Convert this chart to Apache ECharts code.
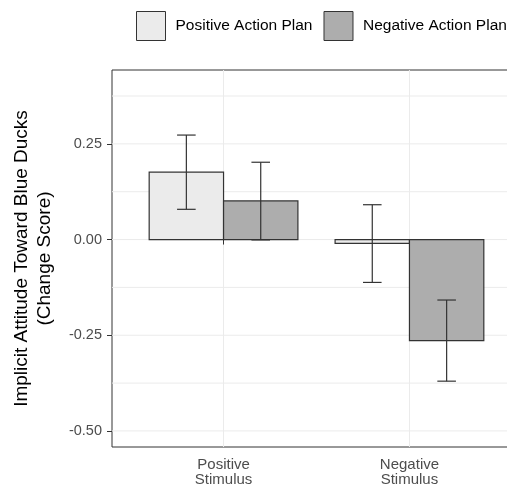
<!DOCTYPE html>
<html>
<head>
<meta charset="utf-8">
<script src="https://cdn.jsdelivr.net/npm/echarts@6/dist/echarts.min.js"></script>
<style>html,body{margin:0;padding:0;background:#fff}#c{width:507px;height:490px}</style>
</head>
<body>
<div id="c"></div>
<script>
// ---- data ----
var categories = ['Positive\nStimulus', 'Negative\nStimulus'];
var plans = ['Positive Action Plan', 'Negative Action Plan'];
var positivePlanMean  = [0.176, -0.010];
var positivePlanLower = [0.079, -0.112];
var positivePlanUpper = [0.273, 0.091];
var negativePlanMean  = [0.101, -0.264];
var negativePlanLower = [-0.001, -0.370];
var negativePlanUpper = [0.202, -0.158];
var yTickValues = [-0.50, -0.25, 0.00, 0.25];
var yGridValues = [-0.50, -0.375, -0.25, -0.125, 0.00, 0.125, 0.25, 0.375];
var xTickValues = [1, 2];

// ---- styles ----
var FONT = 'Liberation Sans, Arial, Helvetica, sans-serif';
var fills = ['#EBEBEB', '#ADADAD'];
var edge = '#333333';
var grid = '#EBEBEB';

function build(mean, lower, upper) {
  return mean.map(function (m, i) { return [i + 1, m, lower[i], upper[i]]; });
}
var seriesData = [
  build(positivePlanMean, positivePlanLower, positivePlanUpper),
  build(negativePlanMean, negativePlanLower, negativePlanUpper)
];

var BAR_W = 0.4, CAP_W = 0.1;
function renderItem(params, api) {
  var s = plans.indexOf(params.seriesName);
  var off = (s === 0 ? -1 : 1) * BAR_W / 2;
  var x = api.value(0) + off;
  var m = api.value(1), lo = api.value(2), hi = api.value(3);
  var p1 = api.coord([x - BAR_W / 2, m]);
  var p2 = api.coord([x + BAR_W / 2, 0]);
  var top = Math.min(p1[1], p2[1]), h = Math.abs(p1[1] - p2[1]);
  var cLo = api.coord([x, lo]), cHi = api.coord([x, hi]);
  var capL = api.coord([x - CAP_W / 2, lo])[0], capR = api.coord([x + CAP_W / 2, lo])[0];
  var ls = { stroke: '#333333', lineWidth: 1.2 };
  return {
    type: 'group',
    children: [
      { type: 'rect', shape: { x: p1[0], y: top, width: p2[0] - p1[0], height: h },
        style: { fill: fills[s], stroke: edge, lineWidth: 1.2 } },
      { type: 'line', shape: { x1: cLo[0], y1: cLo[1], x2: cHi[0], y2: cHi[1] }, style: ls },
      { type: 'line', shape: { x1: capL, y1: cLo[1], x2: capR, y2: cLo[1] }, style: ls },
      { type: 'line', shape: { x1: capL, y1: cHi[1], x2: capR, y2: cHi[1] }, style: ls }
    ]
  };
}

// gridlines: horizontal from yGridValues, vertical from xTickValues
var gridData = yGridValues.map(function (v) { return ['h', v]; })
  .concat(xTickValues.map(function (v) { return ['v', v]; }));
function renderGrid(params, api) {
  var cs = params.coordSys;
  var d = gridData[params.dataIndex];
  if (d[0] === 'h') {
    var y = api.coord([1, d[1]])[1];
    return { type: 'line', shape: { x1: cs.x, y1: y, x2: cs.x + cs.width, y2: y },
      style: { stroke: grid, lineWidth: 1 } };
  }
  var x = api.coord([d[1], 0])[0];
  return { type: 'line', shape: { x1: x, y1: cs.y, x2: x, y2: cs.y + cs.height },
    style: { stroke: grid, lineWidth: 1 } };
}

var chart = echarts.init(document.getElementById('c'), null, { renderer: 'canvas' });
chart.setOption({
  animation: false,
  backgroundColor: '#ffffff',
  textStyle: { fontFamily: FONT },
  legend: {
    top: 11, left: 136, width: 400, padding: 0,
    orient: 'horizontal',
    itemWidth: 29, itemHeight: 29, itemGap: 11,
    icon: 'rect',
    selectedMode: false,
    textStyle: { fontSize: 15.5, color: '#000', fontFamily: FONT, padding: [0, 0, 0, 5] },
    data: plans.map(function (p, i) {
      return { name: p, itemStyle: { color: fills[i], borderColor: edge, borderWidth: 1 } };
    })
  },
  grid: {
    left: 112, width: 409, top: 70, bottom: 43,
    show: true, borderColor: '#333333', borderWidth: 1, backgroundColor: 'transparent',
    containLabel: false, outerBoundsMode: 'none'
  },
  xAxis: {
    type: 'value', min: 0.4, max: 2.6,
    axisLine: { show: false },
    splitLine: { show: false },
    axisTick: { show: true, customValues: xTickValues, length: 5, lineStyle: { color: '#333333' } },
    axisLabel: {
      customValues: xTickValues, margin: 10, fontSize: 15, lineHeight: 15, color: '#4D4D4D', fontFamily: FONT,
      formatter: function (v) { return categories[Math.round(v) - 1] || ''; }
    }
  },
  yAxis: {
    type: 'value', min: -0.542, max: 0.443,
    name: 'Implicit Attitude Toward Blue Ducks\n(Change Score)',
    nameLocation: 'middle', nameRotate: 90, nameGap: 56,
    nameTextStyle: { fontSize: 19, color: '#000', lineHeight: 23, fontFamily: FONT },
    axisLine: { show: false },
    splitLine: { show: false },
    axisTick: { show: true, customValues: yTickValues, length: 5, lineStyle: { color: '#333333' } },
    axisLabel: {
      customValues: yTickValues, margin: 10, fontSize: 14.5, color: '#4D4D4D', fontFamily: FONT,
      formatter: function (v) { return v.toFixed(2); }
    }
  },
  series: [
    { type: 'custom', name: 'gridlines', data: gridData.map(function (d, i) { return [i]; }),
      renderItem: renderGrid, z: 0, silent: true, clip: false },
    { type: 'custom', name: plans[0], data: seriesData[0], renderItem: renderItem, z: 2,
      itemStyle: { color: fills[0], borderColor: edge } },
    { type: 'custom', name: plans[1], data: seriesData[1], renderItem: renderItem, z: 2,
      itemStyle: { color: fills[1], borderColor: edge } }
  ]
});
</script>
</body>
</html>
